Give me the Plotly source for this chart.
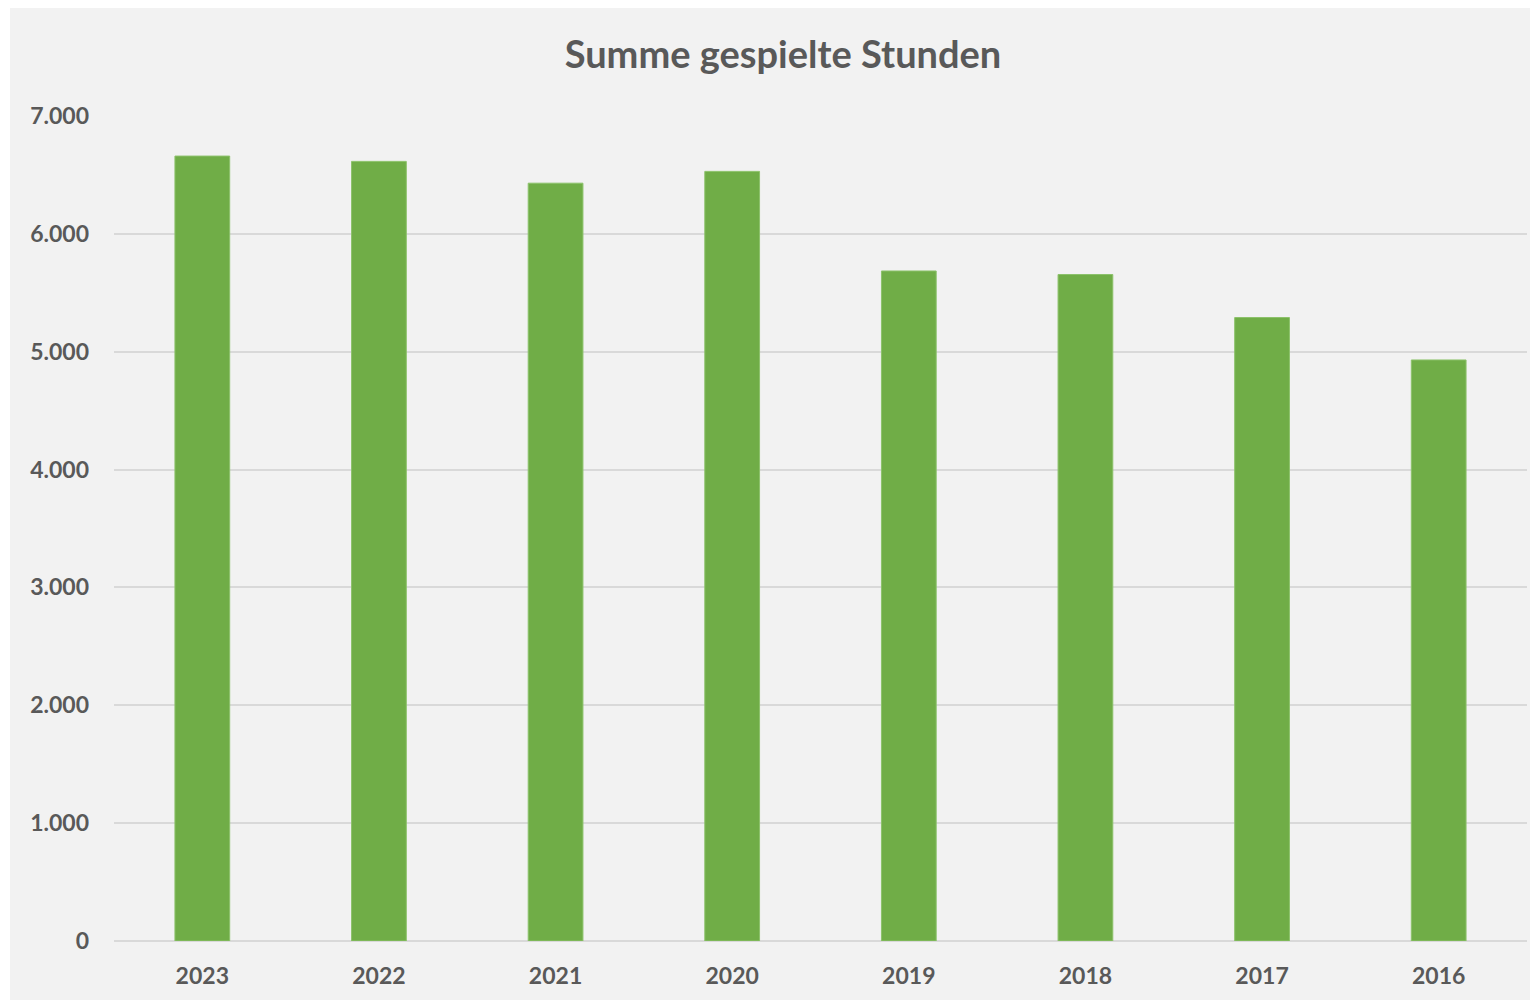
import plotly.graph_objects as go

years = ["2023", "2022", "2021", "2020", "2019", "2018", "2017", "2016"]
hours = [6660, 6615, 6430, 6530, 5685, 5655, 5290, 4930]
y_ticks = [0, 1000, 2000, 3000, 4000, 5000, 6000, 7000]
y_tick_labels = ["0", "1.000", "2.000", "3.000", "4.000", "5.000", "6.000", "7.000"]
title = "Summe gespielte Stunden"

OFF = 8  # page body margin
W, H = 1538 - OFF, 1000 - OFF
L, R, T, B = 114 - OFF, 11, 116 - OFF, 59
pw, ph = W - L - R, H - T - B
txt = "#595959"
font = "Lato"

fig = go.Figure(go.Bar(
    x=years, y=hours,
    marker=dict(color="#70AD47", line=dict(color="#8CC26A", width=1)),
    hoverinfo="x+y",
))

# thin white strip on the left (chart area starts ~10px from page edge)
fig.add_shape(type="rect", xref="paper", yref="paper", layer="below",
              x0=-L / pw, x1=(2 - L) / pw, y0=-B / ph, y1=(H - B) / ph,
              fillcolor="white", line=dict(width=0))

fig.update_layout(
    width=W, height=H,
    margin=dict(l=L, r=R, t=T, b=B, pad=0),
    paper_bgcolor="#F2F2F2", plot_bgcolor="#F2F2F2",
    bargap=0.69,
    showlegend=False,
    title=dict(text=title, x=(783 - OFF) / W, xanchor="center",
               y=1 - (55 - OFF) / H, yanchor="middle",
               xref="container", yref="container",
               font=dict(family=font, size=38, color=txt, weight="bold")),
    font=dict(family=font, color=txt),
    xaxis=dict(showgrid=False, showline=False, zeroline=False, ticks="",
               ticklabelstandoff=19,
               tickfont=dict(family=font, size=23, color=txt, weight="bold")),
    yaxis=dict(range=[0, 7000], tickvals=y_ticks, ticktext=y_tick_labels,
               showgrid=True, gridcolor="#D9D9D9", gridwidth=2,
               zeroline=True, zerolinecolor="#D9D9D9", zerolinewidth=2,
               showline=False, ticks="", ticklabelstandoff=24,
               tickfont=dict(family=font, size=23, color=txt, weight="bold")),
)

fig.write_html("out.html")
